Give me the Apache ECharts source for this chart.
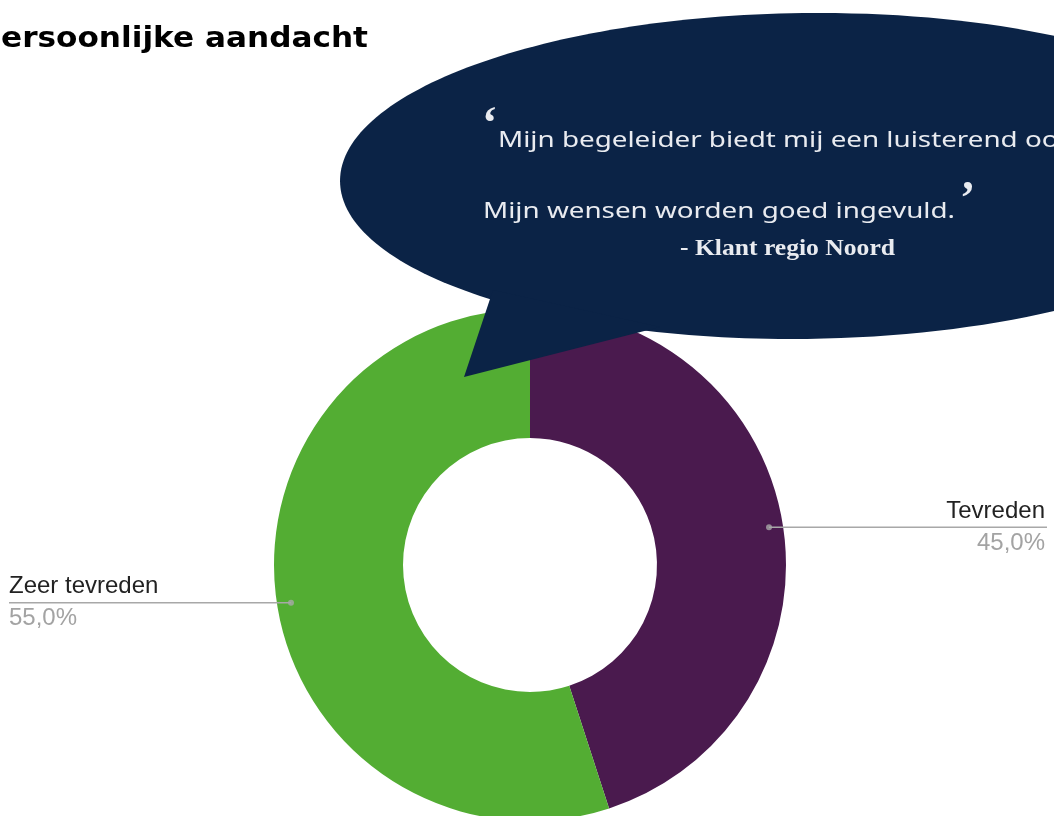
<!DOCTYPE html>
<html>
<head>
<meta charset="utf-8">
<script src="https://cdn.jsdelivr.net/npm/echarts@6/dist/echarts.min.js"></script>
<style>
  html, body { margin: 0; padding: 0; background: #ffffff; }
  #chart { width: 1054px; height: 816px; }
</style>
</head>
<body>
<div id="chart"></div>
<script>
// Satisfaction split for "persoonlijke aandacht"
const categories = ['Tevreden', 'Zeer tevreden'];
const shares = [45.0, 55.0];
const sliceColors = ['#4a1a4e', '#53ad33'];

const titleText = 'Persoonlijke aandacht';
const quoteLines = [
  'Mijn begeleider biedt mij een luisterend oor.',
  'Mijn wensen worden goed ingevuld.'
];
const quoteAuthor = '- Klant regio Noord';

const navy = '#0b2346';
const quoteColor = '#e9ebf0';

const CENTER = [530, 565];
const RING = [127, 256];
const ANCHOR_R = 242;

const fmtPct = v => v.toFixed(1).replace('.', ',') + '%';

// text measuring, used to stretch substitute fonts to the wider display face
const measureCtx = document.createElement('canvas').getContext('2d');
function textWidth(str, font) {
  measureCtx.font = font;
  return measureCtx.measureText(str).width;
}

const titleFont = 'bold 28px "DejaVu Sans"';
const titleScale = 367 / textWidth(titleText.slice(1), titleFont);
const titleX = 368 - textWidth(titleText, titleFont) * titleScale;

const bodyFont = '21px "Noto Sans"';
const bodyScale = 472 / textWidth(quoteLines[1], bodyFont);
const authorFont = 'bold 23px "Liberation Serif"';
const authorScale = 215 / textWidth(quoteAuthor, authorFont);
const quoteMarkFont = 'bold 46px "Liberation Serif"';

// mid-angle of each slice, in percent of the full turn
const cumulative = [];
shares.reduce((acc, v) => { cumulative.push(acc + v / 2); return acc + v; }, 0);
const total = shares.reduce((a, b) => a + b, 0);

const labelFont = '"Liberation Sans", Arial';

const chart = echarts.init(document.getElementById('chart'), null, { renderer: 'canvas' });

chart.setOption({
  animation: false,
  backgroundColor: '#ffffff',
  polar: { center: CENTER, radius: RING[1] },
  angleAxis: {
    type: 'value', min: 0, max: total, startAngle: 90, clockwise: true,
    show: false
  },
  radiusAxis: { type: 'value', min: 0, max: RING[1], show: false },
  graphic: [
    {
      type: 'text', x: titleX, y: 39.5, scaleX: titleScale, z: 20,
      style: {
        text: titleText, font: titleFont, fill: '#000000',
        textAlign: 'left', textVerticalAlign: 'middle'
      }
    },
    {
      type: 'ellipse', z: 20, x: 805, y: 176, rotation: 0.012,
      shape: { cx: 0, cy: 0, rx: 465, ry: 163 },
      style: { fill: navy }
    },
    {
      type: 'polygon', z: 20,
      shape: { points: [[493, 290], [464, 377], [660, 327]] },
      style: { fill: navy }
    },
    {
      type: 'text', x: 482, y: 126, z: 21,
      style: { text: '\u2018', font: quoteMarkFont, fill: quoteColor, textVerticalAlign: 'middle' }
    },
    {
      type: 'text', x: 498, y: 141, scaleX: bodyScale, z: 21,
      style: { text: quoteLines[0], font: bodyFont, fill: quoteColor, textVerticalAlign: 'middle' }
    },
    {
      type: 'text', x: 960, y: 201, z: 21,
      style: { text: '\u2019', font: quoteMarkFont, fill: quoteColor, textVerticalAlign: 'middle' }
    },
    {
      type: 'text', x: 483, y: 212, scaleX: bodyScale, z: 21,
      style: { text: quoteLines[1], font: bodyFont, fill: quoteColor, textVerticalAlign: 'middle' }
    },
    {
      type: 'text', x: 680, y: 249, scaleX: authorScale, z: 21,
      style: { text: quoteAuthor, font: authorFont, fill: quoteColor, textVerticalAlign: 'middle' }
    }
  ],
  series: [
    {
      type: 'pie',
      center: CENTER,
      radius: RING,
      startAngle: 90,
      clockwise: true,
      silent: true,
      label: { show: false },
      labelLine: { show: false },
      data: categories.map((name, i) => ({
        name, value: shares[i], itemStyle: { color: sliceColors[i] }
      }))
    },
    {
      // invisible ring carrying the callout labels
      type: 'pie',
      center: CENTER,
      radius: [0, ANCHOR_R],
      startAngle: 90,
      clockwise: true,
      silent: true,
      z: 3,
      itemStyle: { color: 'rgba(0,0,0,0)' },
      emphasis: { disabled: true },
      label: {
        show: true,
        position: 'outside',
        alignTo: 'edge',
        edgeDistance: 9,
        formatter: p => '{name|' + p.name + '}\n{pct|' + fmtPct(p.value) + '}',
        rich: {
          name: { fontFamily: labelFont, fontSize: 24, color: '#222222', lineHeight: 32 },
          pct: { fontFamily: labelFont, fontSize: 24, color: '#a3a3a3', lineHeight: 32 }
        }
      },
      labelLine: {
        show: true, length: 0, length2: 20,
        lineStyle: { color: '#a8a8a8', width: 1.5 }
      },
      labelLayout: function (params) {
        const pts = params.labelLinePoints;
        if (!pts) return {};
        const r = params.labelRect;
        const p0 = pts[0];
        const isLeft = pts[2][0] < p0[0];
        const endX = isLeft ? r.x : r.x + r.width + 2;
        return { labelLinePoints: [p0, p0, [endX, p0[1]]] };
      },
      data: categories.map((name, i) => ({ name, value: shares[i] }))
    },
    {
      // anchor dots where the callout lines start
      type: 'scatter',
      coordinateSystem: 'polar',
      symbol: 'circle',
      symbolSize: 6,
      silent: true,
      z: 4,
      itemStyle: { color: '#a8a8a8' },
      data: cumulative.map(a => [ANCHOR_R, a])
    }
  ]
});
</script>
</body>
</html>
